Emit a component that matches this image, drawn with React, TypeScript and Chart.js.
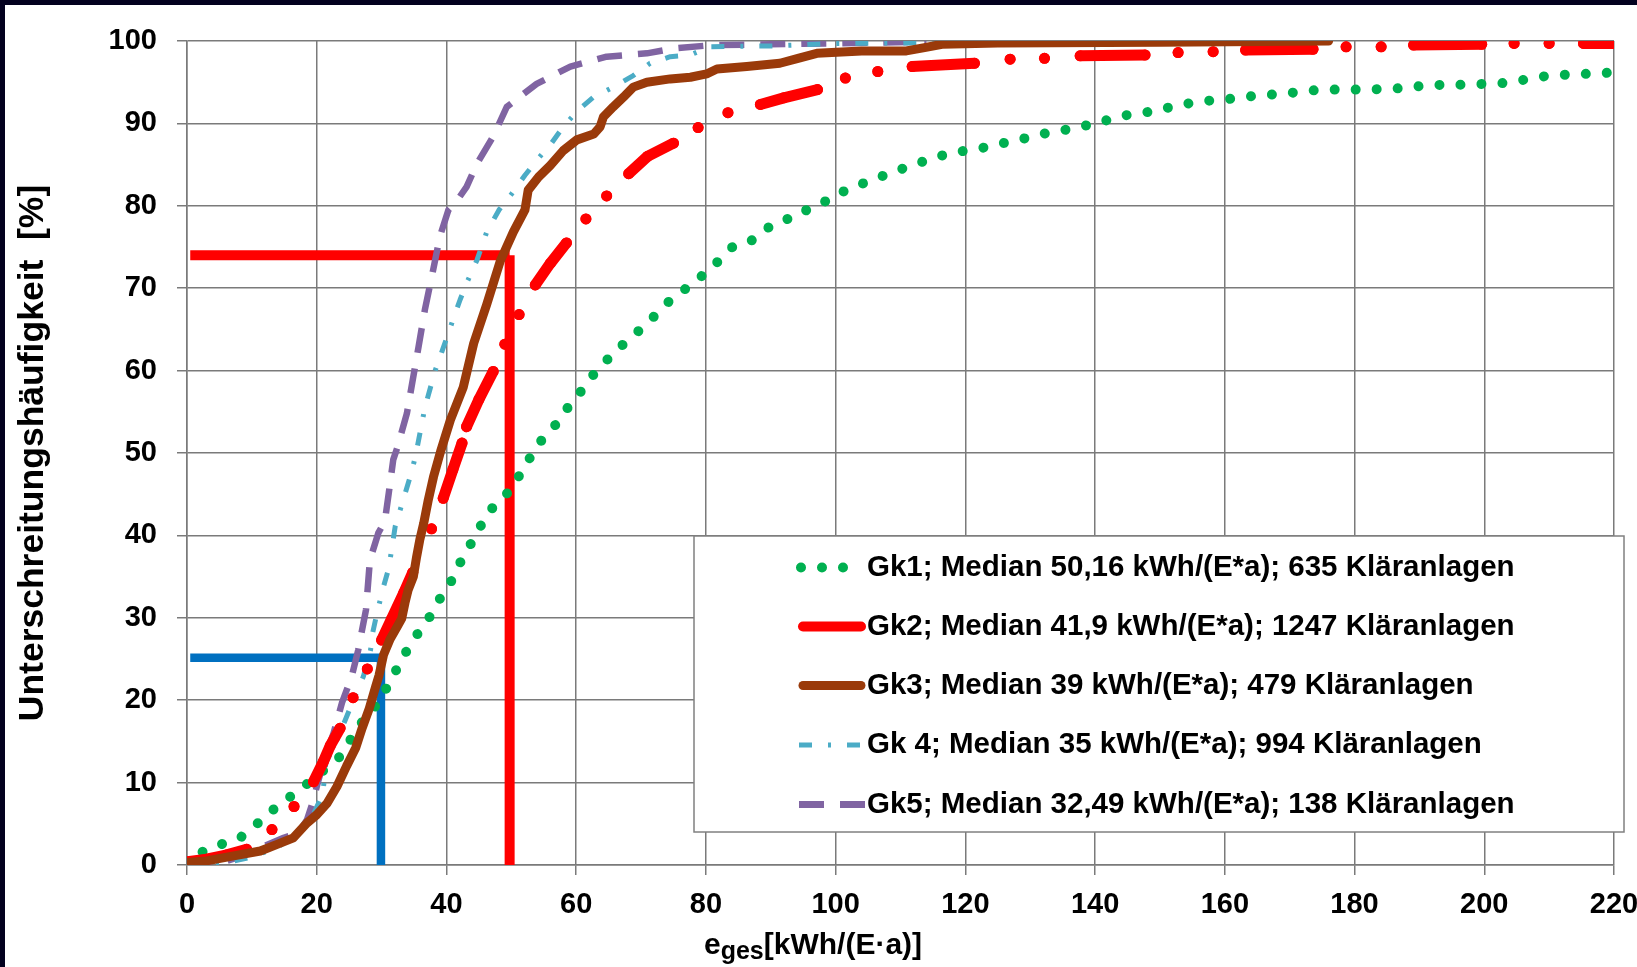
import React, { useEffect, useRef } from 'react';
import { Chart, registerables } from 'chart.js';

Chart.register(...registerables);

const FONT = '"Liberation Sans", Arial, Helvetica, sans-serif';

// ---- axis ranges / ticks ----
const X_MIN = 0;
const X_MAX = 220;
const X_STEP = 20;
const Y_MIN = 0;
const Y_MAX = 100;
const Y_STEP = 10;

const Y_TITLE = 'Unterschreitungshäufigkeit  [%]';
const X_TITLE_MAIN = 'e';
const X_TITLE_SUB = 'ges';
const X_TITLE_REST = '[kWh/(E·a)]';

const LEGEND_LABELS = [
  'Gk1; Median 50,16 kWh/(E*a); 635 Kläranlagen',
  'Gk2; Median 41,9 kWh/(E*a); 1247 Kläranlagen',
  'Gk3; Median 39 kWh/(E*a); 479 Kläranlagen',
  'Gk 4; Median 35 kWh/(E*a); 994 Kläranlagen',
  'Gk5; Median 32,49 kWh/(E*a); 138 Kläranlagen',
];

// ---- series (x: kWh/(E·a), y: %) ----
const GK1_POINTS: [number, number][] = [
  [2.4, 1.6], [5.2, 2.5], [8, 3.2], [10.2, 4.5], [12.1, 6], [14.6, 7.5], [16.6, 8.7], [18.8, 10],
  [20.9, 11.4], [23.1, 12.7], [24.8, 14.5], [26, 16.6], [28.2, 18.2], [29.6, 20], [31.1, 21.9],
  [32.4, 23.9], [33.8, 25.9], [35.2, 27.7], [36.9, 29.4], [38.3, 31.4], [39.5, 33], [41.2, 35],
  [42.4, 37.2], [43.7, 38.9], [45.1, 40.9], [46.5, 42.9], [48.6, 44.4], [50.6, 46.3], [51.8, 48.2],
  [53.3, 49.9], [54.7, 51.6], [56.6, 53.2], [58.2, 55], [59.8, 56.6], [61.6, 58.3], [63, 59.9],
  [65.4, 61.8], [67.8, 63.6], [70.2, 65.2], [72.3, 66.8], [74, 68.2], [76, 69.4], [78.1, 70.7],
  [80.2, 72], [82.2, 73.5], [84.1, 75], [86.9, 75.7], [88.9, 77], [91.2, 78.1], [94, 78.7],
  [96.1, 79.8], [98.9, 80.7], [101.1, 81.7], [103.5, 82.5], [106.5, 83.4], [109.5, 84.3],
  [112.5, 85.1], [115, 85.8], [117.3, 86.3], [120, 86.7], [123.1, 87.1], [125.8, 87.6],
  [128.7, 88.1], [131.7, 88.7], [134.7, 89.1], [137.7, 89.6], [140.7, 90.1], [143.4, 90.8],
  [146.3, 91.2], [149.4, 91.5], [152.1, 92.1], [155, 92.5], [158, 92.8], [161.1, 93], [164.1, 93.3],
  [167.2, 93.5], [170.2, 93.7], [173.3, 94], [176.4, 94.1], [179.5, 94.1], [182, 94.1], [185, 94.2],
  [188, 94.3], [190.8, 94.6], [193.9, 94.7], [197, 94.7], [200, 94.8], [203, 94.9], [206.2, 95.3],
  [209.2, 95.7], [212.3, 95.9], [215.3, 96], [218.3, 96.1], [220, 96.2],
];

// null = gap between drawn runs
const GK2_POINTS: ([number, number] | null)[] = [
  [0, 0.4], [3, 0.7], [6, 1.2], [9.2, 1.9], null,
  [13.1, 4.3], null,
  [16.5, 7.1], null,
  [19.5, 10.1], [21, 12.5], [22.1, 14.5], [23.6, 16.6], null,
  [25.6, 20.3], null,
  [27.8, 23.8], null,
  [30, 27.3], [31.5, 29.8], [33.4, 33], [34.8, 35.5], null,
  [37.7, 40.8], null,
  [39.5, 44.5], [41, 48], [42.4, 51.2], null,
  [43.1, 53.2], [45, 56.5], [47.2, 59.9], null,
  [49, 63.2], null,
  [51.2, 66.8], null,
  [53.7, 70.4], [56, 73], [58.5, 75.5], null,
  [61.5, 78.4], null,
  [64.7, 81.2], null,
  [68.1, 83.9], [71, 86], [75, 87.6], null,
  [78.8, 89.5], null,
  [83.4, 91.3], null,
  [88.4, 92.3], [92, 93.1], [97.2, 94.1], null,
  [101.5, 95.5], null,
  [106.5, 96.3], null,
  [111.8, 96.9], [121.4, 97.3], null,
  [126.9, 97.8], null,
  [132.2, 97.9], null,
  [137.7, 98.2], [147.7, 98.3], null,
  [152.8, 98.6], null,
  [158.2, 98.7], null,
  [163.2, 98.9], [173.6, 99.0], null,
  [178.7, 99.3], null,
  [184.1, 99.3], null,
  [189.1, 99.5], [199.6, 99.6], null,
  [204.6, 99.7], null,
  [210, 99.7], null,
  [215.3, 99.7], [220, 99.7],
];

const GK3_POINTS: [number, number][] = [
  [0, 0.3], [3, 0.5], [7.2, 1.1], [11.3, 1.7], [13.9, 2.5], [16.4, 3.3], [18.5, 5.1], [20, 6.1],
  [21.6, 7.5], [23.1, 9.5], [24.6, 12], [26, 14.2], [27, 16.6], [28.1, 19], [29.1, 21.7], [29.6, 23],
  [30.3, 25.5], [31.3, 27.4], [32.4, 28.9], [33.1, 29.9], [33.6, 31.8], [34.1, 33.4], [34.9, 35],
  [35.4, 37.4], [35.9, 39.5], [36.5, 41.5], [37.2, 44.3], [38, 47.1], [39.1, 50.2], [40.6, 54],
  [42.6, 58], [44.2, 63.3], [46.2, 68], [48.3, 73.3], [50.3, 76.8], [52.1, 79.5], [52.6, 81.9],
  [54.2, 83.5], [56, 84.9], [58, 86.7], [60.1, 88], [62.7, 88.7], [63.7, 89.6], [64.2, 90.8],
  [65.7, 92], [67.3, 93.2], [68.8, 94.4], [70.9, 95], [74.5, 95.4], [77.6, 95.6], [80.1, 96],
  [81.7, 96.6], [86.3, 96.9], [91.4, 97.3], [94.2, 97.9], [97.1, 98.5], [104, 98.8], [110.9, 98.8],
  [113.7, 99.2], [116.4, 99.6], [125, 99.75], [150, 99.85], [176, 100],
];

const GK4_POINTS: [number, number][] = [
  [0, 0], [5, 0.1], [9.7, 0.9], [13.9, 2.1], [16.9, 3.9], [19, 5.3], [20.5, 7.9], [21, 9.1],
  [21.4, 12.4], [22.8, 14.6], [24.4, 17.6], [25.9, 20.5], [27.2, 22.9], [28.3, 26.1], [28.6, 28.1],
  [29.3, 30.6], [30.3, 33.8], [31.1, 36], [32.1, 41.1], [33.4, 44.5], [34.4, 47.1], [35.2, 49.5],
  [36.7, 55.6], [38.3, 60.1], [39.3, 62.3], [40.8, 65.7], [42.1, 68.6], [43.1, 70.6], [44.7, 73.4],
  [46.2, 76.8], [48.1, 79.5], [50.1, 81.5], [52.1, 83.7], [53.9, 85.5], [56.2, 87.6], [58, 89.6],
  [60.3, 91.6], [62.7, 93.2], [65.7, 94.4], [68.8, 95.8], [71.4, 97.3], [74.5, 98.1], [77.6, 98.3],
  [80.6, 99.3], [90, 99.4], [100, 99.7], [135, 99.9],
];

const GK5_POINTS: [number, number][] = [
  [0, 0], [5, 0.2], [7.7, 0.9], [11.3, 2.1], [14.9, 3.3], [17.2, 3.9], [18.5, 5.5], [19.5, 7.9],
  [20, 9.5], [21.3, 13.2], [22.6, 16], [23.9, 19.7], [25.4, 22.9], [26.4, 26.1], [27.6, 31],
  [28.2, 37], [29.5, 40.3], [30.5, 41.7], [31.1, 45.1], [31.8, 49.2], [32.4, 50.6], [33.9, 54.8],
  [35.7, 62.9], [36.7, 67.5], [38, 72.4], [39, 76.3], [40.3, 79.5], [41.6, 80.6], [43.1, 82.3],
  [44.7, 85.1], [47.2, 88.4], [49.3, 92], [53.9, 94.8], [59.1, 96.9], [64.7, 98.1], [70.9, 98.5],
  [75, 99.1], [81, 99.5], [90, 99.6], [114, 99.9],
];

// reference marker lines (null = separate strokes)
const REF_RED: ([number, number] | null)[] = [[0.5, 74], [49.74, 74], null, [49.74, 74], [49.74, 0]];
const REF_BLUE: ([number, number] | null)[] = [[0.5, 25.15], [29.9, 25.15], null, [29.9, 25.15], [29.9, 0]];

// ---- styles ----
const C_GREEN = '#00B050';
const C_RED = '#FF0000';
const C_BROWN = '#9A3A0A';
const C_TEAL = '#4BACC6';
const C_PURPLE = '#8064A2';
const C_REF_BLUE = '#0070C0';
const C_GRID = '#7a7a7a';

const DASH_GREEN = [0.01, 20.99];
const DASH_TEAL = [13, 16, 3, 16];
const DASH_PURPLE = [25, 16];

function toXY(points: ([number, number] | null)[]) {
  const out: { x: number; y: number | null }[] = [];
  let lastX = 0;
  for (const p of points) {
    if (p === null) {
      out.push({ x: lastX, y: null });
    } else {
      lastX = p[0];
      out.push({ x: p[0], y: p[1] });
    }
  }
  return out;
}

const legendPlugin = {
  id: 'boxLegend',
  afterDraw(chart: any) {
    const ctx: CanvasRenderingContext2D = chart.ctx;
    const L = 694, T = 536, W = 930, H = 296;
    ctx.save();
    ctx.fillStyle = '#ffffff';
    ctx.fillRect(L, T, W, H);
    ctx.strokeStyle = '#808080';
    ctx.lineWidth = 1.5;
    ctx.strokeRect(L, T, W, H);

    const rowY = [567.5, 626.5, 685.5, 745, 804.5];
    const sx0 = 799, sx1 = 865;
    const samples = [
      { color: C_GREEN, width: 10, dash: DASH_GREEN, cap: 'round', x0: 801, x1: 846 },
      { color: C_RED, width: 10, dash: [], cap: 'round', x0: 803, x1: 861 },
      { color: C_BROWN, width: 9, dash: [], cap: 'round', x0: 803, x1: 861 },
      { color: C_TEAL, width: 5, dash: DASH_TEAL, cap: 'butt', x0: sx0, x1: sx1 },
      { color: C_PURPLE, width: 7, dash: DASH_PURPLE, cap: 'butt', x0: sx0, x1: sx1 + 1 },
    ];
    samples.forEach((s, i) => {
      ctx.beginPath();
      ctx.strokeStyle = s.color;
      ctx.lineWidth = s.width;
      ctx.lineCap = s.cap as CanvasLineCap;
      ctx.setLineDash(s.dash);
      ctx.moveTo(s.x0, rowY[i]);
      ctx.lineTo(s.x1, rowY[i]);
      ctx.stroke();
    });
    ctx.setLineDash([]);
    ctx.fillStyle = '#000';
    ctx.font = `bold 29.5px ${FONT}`;
    ctx.textBaseline = 'middle';
    ctx.textAlign = 'left';
    LEGEND_LABELS.forEach((t, i) => ctx.fillText(t, 867, rowY[i]));
    ctx.restore();
  },
};

const xTitlePlugin = {
  id: 'xTitleSub',
  afterDraw(chart: any) {
    const ctx: CanvasRenderingContext2D = chart.ctx;
    ctx.save();
    ctx.fillStyle = '#000';
    ctx.textBaseline = 'alphabetic';
    ctx.textAlign = 'left';
    const base = 954;
    let x = 704;
    ctx.font = `bold 30px ${FONT}`;
    ctx.fillText(X_TITLE_MAIN, x, base);
    x += ctx.measureText(X_TITLE_MAIN).width;
    ctx.font = `bold 25px ${FONT}`;
    ctx.fillText(X_TITLE_SUB, x, base + 5);
    x += ctx.measureText(X_TITLE_SUB).width;
    ctx.font = `bold 30px ${FONT}`;
    ctx.fillText(X_TITLE_REST, x, base);
    ctx.restore();
  },
};

export default function App() {
  const ref = useRef<HTMLCanvasElement>(null);

  useEffect(() => {
    if (!ref.current) return;
    const tickFont = { family: FONT, size: 29, weight: 'bold' as const };
    const chart = new Chart(ref.current, {
      type: 'scatter',
      data: {
        datasets: [
          {
            label: 'Gk3',
            data: toXY(GK3_POINTS),
            showLine: true,
            borderColor: C_BROWN,
            borderWidth: 9,
            borderCapStyle: 'round',
            borderJoinStyle: 'round',
            pointRadius: 0,
          },
          {
            label: 'Gk2',
            data: toXY(GK2_POINTS),
            showLine: true,
            spanGaps: false,
            borderColor: C_RED,
            borderWidth: 11,
            borderCapStyle: 'round',
            borderJoinStyle: 'round',
            pointRadius: 5.5,
            pointBorderWidth: 0,
            pointBackgroundColor: C_RED,
            pointBorderColor: C_RED,
          },
          {
            label: 'Gk4',
            data: toXY(GK4_POINTS),
            showLine: true,
            borderColor: C_TEAL,
            borderWidth: 5,
            borderDash: DASH_TEAL,
            borderCapStyle: 'butt',
            borderJoinStyle: 'round',
            pointRadius: 0,
          },
          {
            label: 'Gk5',
            data: toXY(GK5_POINTS),
            showLine: true,
            borderColor: C_PURPLE,
            borderWidth: 6.5,
            borderDash: DASH_PURPLE,
            borderCapStyle: 'butt',
            borderJoinStyle: 'round',
            pointRadius: 0,
          },
          {
            label: 'Gk1',
            data: toXY(GK1_POINTS),
            showLine: true,
            borderColor: C_GREEN,
            borderWidth: 10,
            borderDash: DASH_GREEN,
            borderCapStyle: 'round',
            borderJoinStyle: 'round',
            pointRadius: 0,
          },
          {
            label: 'refRed',
            data: toXY(REF_RED),
            showLine: true,
            spanGaps: false,
            borderColor: C_RED,
            borderWidth: 10,
            borderCapStyle: 'butt',
            pointRadius: 0,
          },
          {
            label: 'refBlue',
            data: toXY(REF_BLUE),
            showLine: true,
            spanGaps: false,
            borderColor: C_REF_BLUE,
            borderWidth: 8.5,
            borderCapStyle: 'butt',
            pointRadius: 0,
          },
        ],
      },
      options: {
        animation: false,
        responsive: false,
        devicePixelRatio: 1,
        events: [],
        layout: { padding: { top: 41, right: 46, bottom: 0, left: 0 } },
        plugins: {
          legend: { display: false },
          tooltip: { enabled: false },
        },
        scales: {
          x: {
            type: 'linear',
            min: X_MIN,
            max: X_MAX,
            ticks: { stepSize: X_STEP, font: tickFont, color: '#000', padding: 13, maxRotation: 0 },
            grid: { color: C_GRID, lineWidth: 1.5, tickLength: 10, tickColor: C_GRID },
            border: { color: C_GRID, width: 1.5 },
            afterFit: (scale: any) => {
              scale.height = 102;
            },
          },
          y: {
            type: 'linear',
            min: Y_MIN,
            max: Y_MAX,
            ticks: { stepSize: Y_STEP, font: tickFont, color: '#000', padding: 20 },
            grid: { color: C_GRID, lineWidth: 1.5, tickLength: 10, tickColor: C_GRID },
            border: { color: C_GRID, width: 1.5 },
            title: {
              display: true,
              text: Y_TITLE,
              color: '#000',
              font: { family: FONT, size: 35.5, weight: 'bold' },
              padding: { top: 12, bottom: 0 },
            },
            afterFit: (scale: any) => {
              scale.width = 187;
            },
          },
        },
      },
      plugins: [legendPlugin, xTitlePlugin],
    } as any);
    return () => chart.destroy();
  }, []);

  return (
    <div
      style={{
        position: 'fixed',
        left: 0,
        top: 0,
        width: 1637,
        height: 967,
        overflow: 'hidden',
        background: '#ffffff',
      }}
    >
      <canvas
        ref={ref}
        width={1660}
        height={967}
        style={{ position: 'absolute', left: 0, top: 0, width: 1660, height: 967 }}
      />
      <div style={{ position: 'absolute', left: 0, top: 0, width: 1637, height: 5, background: '#03011f' }} />
      <div style={{ position: 'absolute', left: 0, top: 0, width: 5, height: 967, background: '#03011f' }} />
    </div>
  );
}
